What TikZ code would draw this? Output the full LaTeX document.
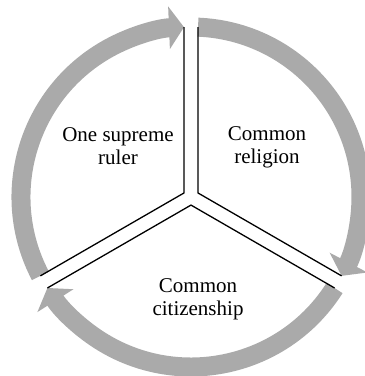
\documentclass[tikz,border=0pt]{standalone}
\usepackage{fontspec}
\setmainfont{Liberation Serif}
\usepackage{xcolor}
\usetikzlibrary{arrows.meta}
\definecolor{cyclegray}{HTML}{AAAAAA}

\begin{document}
\begin{tikzpicture}[
  x=1pt, y=1pt,
  font=\fontsize{21}{23}\selectfont,
  cyclearc/.style={
    draw=cyclegray, line width=19pt,
    -{Triangle[length=15pt, width=42pt]},
  },
  divider/.style={line width=1.3pt, miter limit=10},
  sectortext/.style={align=center, inner sep=0pt},
]
\useasboundingbox (-191,-179) rectangle (174,197);
% sector corners, 7pt off the dividing rays
\coordinate (apexL) at (150:8.08);
\coordinate (apexR) at (30:8.08);
\coordinate (apexB) at (270:8.08);
\foreach \nm/\a in {tl/92.36, lt/207.64, tr/87.64, rt/-27.64, rb/-32.36, lb/212.36} {
  \coordinate (\nm) at (\a:170);
}
% clockwise arrows round the circle
\foreach \from/\s/\e in {lt/207.64/92.36, tr/87.64/-27.64, rb/-32.36/-147.64} {
  \draw[cyclearc] (\from) arc[start angle=\s, end angle=\e, radius=170];
}
\draw[divider] (tl) -- (apexL) -- (lt);
\draw[divider] (tr) -- (apexR) -- (rt);
\draw[divider] (rb) -- (apexB) -- (lb);
\node[sectortext] (ruler) at (-73,51) {One supreme\\ruler};
\node[sectortext] (religion) at (76,50) {Common\\religion};
\node[sectortext] (citizenship) at (7,-102) {Common\\citizenship};
\end{tikzpicture}
\end{document}
